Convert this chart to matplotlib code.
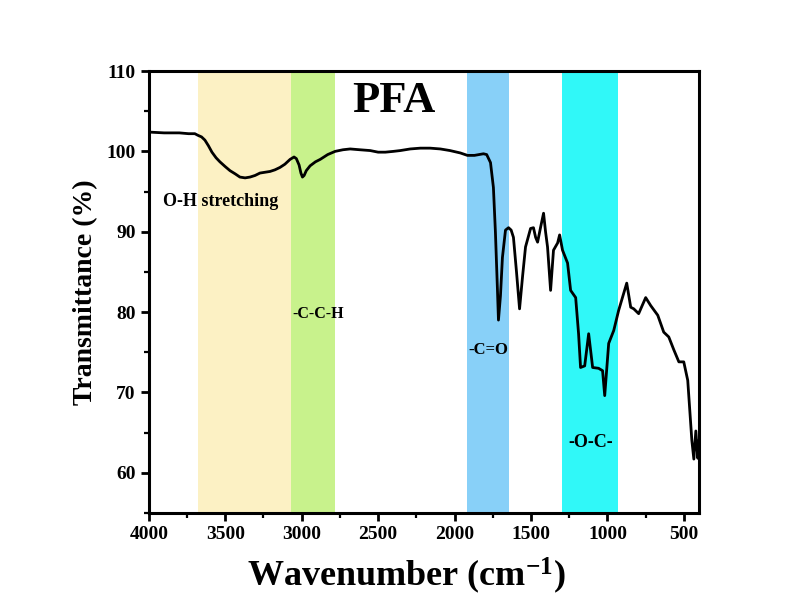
import matplotlib
matplotlib.use("Agg")
import matplotlib.pyplot as plt
from matplotlib.ticker import MultipleLocator

# ---- data ----
wavenumber = [4000, 3900, 3800, 3740, 3699, 3679, 3655, 3633, 3610, 3587, 3560, 3535, 3500,
              3469, 3435, 3404, 3370, 3338, 3305, 3273, 3240, 3207, 3175, 3142, 3110,
              3076, 3050, 3035, 3017, 3005, 2995, 2984, 2970, 2945, 2910, 2879, 2830,
              2781, 2730, 2683, 2620, 2552, 2500, 2453, 2400, 2355, 2290, 2224, 2160,
              2093, 2030, 1962, 1916, 1870, 1811, 1790, 1765, 1746, 1733, 1720, 1713,
              1700, 1687, 1667, 1647, 1630, 1615, 1595, 1575, 1555, 1536, 1503, 1484,
              1470, 1457, 1438, 1418, 1405, 1392, 1372, 1353, 1326, 1313, 1294, 1261,
              1241, 1208, 1189, 1176, 1149, 1123, 1097, 1058, 1032, 1018, 992, 959,
              927, 874, 848, 828, 796, 750, 717, 671, 632, 599, 566, 533, 501, 475,
              448, 435, 422, 409, 400]
transmittance = [102.4, 102.3, 102.3, 102.2, 102.2, 102.0, 101.8, 101.4, 100.7, 99.9, 99.2, 98.7, 98.1,
                 97.6, 97.2, 96.8, 96.7, 96.8, 97.0, 97.3, 97.4, 97.5, 97.7, 98.0, 98.4,
                 99.0, 99.3, 99.1, 98.3, 97.3, 96.8, 97.0, 97.6, 98.2, 98.7, 99.0, 99.6,
                 100.0, 100.2, 100.3, 100.2, 100.1, 99.9, 99.9, 100.0, 100.1, 100.3, 100.4, 100.4,
                 100.3, 100.1, 99.8, 99.5, 99.5, 99.7, 99.6, 98.6, 95.5, 90.0, 83.0, 79.0,
                 82.0, 86.8, 90.2, 90.5, 90.2, 89.3, 85.0, 80.4, 84.5, 88.1, 90.4, 90.5,
                 89.3, 88.7, 90.5, 92.3, 90.0, 88.1, 82.7, 87.7, 88.6, 89.6, 87.7, 86.1,
                 82.7, 81.8, 77.3, 73.1, 73.3, 77.3, 73.1, 73.0, 72.7, 69.6, 76.1, 77.7,
                 80.2, 83.6, 80.6, 80.4, 79.8, 81.8, 80.8, 79.6, 77.5, 76.9, 75.3, 73.8, 73.8, 71.5,
                 64.0, 61.7, 65.2, 61.8, 64.0]

band_ranges = [(3679, 3069), (3069, 2781), (1916, 1641), (1300, 933)]
band_colors = ["#FCF1C4", "#C8F28C", "#88D0F8", "#30F8F8"]

label_texts = ["O-H stretching", "-C-C-H", "-C=O", "-O-C-"]
label_x = [3530, 2890, 1778, 1110]
label_y = [93.75, 79.75, 75.25, 63.75]
label_sizes = [13, 11.5, 12, 13]

plt.rcParams['font.family'] = ['Liberation Serif', 'DejaVu Serif']
plt.rcParams['mathtext.fontset'] = 'custom'
plt.rcParams['mathtext.rm'] = 'Liberation Serif:bold'
plt.rcParams['mathtext.bf'] = 'Liberation Serif:bold'
plt.rcParams['mathtext.it'] = 'Liberation Serif:bold'

fig = plt.figure(figsize=(8, 6.07), dpi=100)
ax = fig.add_axes([0.186, 0.155, 0.688, 0.728])

for (a, b), c in zip(band_ranges, band_colors):
    ax.axvspan(a, b, color=c, lw=0, zorder=0)

ax.plot(wavenumber, transmittance, color='black', lw=2.0, zorder=3)

ax.set_xlim(4000, 400)
ax.set_ylim(55, 110)
ax.xaxis.set_minor_locator(MultipleLocator(250))
ax.yaxis.set_minor_locator(MultipleLocator(5))
ax.set_xticks([4000, 3500, 3000, 2500, 2000, 1500, 1000, 500])
ax.set_yticks([60, 70, 80, 90, 100, 110])

ax.tick_params(which='major', direction='out', length=6, width=2, labelsize=14)
ax.tick_params(which='minor', direction='out', length=3.5, width=1.6)
for lab in ax.get_xticklabels() + ax.get_yticklabels():
    lab.set_fontweight('bold')
for s in ax.spines.values():
    s.set_linewidth(2.2)

ax.set_xlabel(r'Wavenumber (cm$^{\mathbf{-1}}$)', fontsize=26, fontweight='bold', labelpad=9)
ax.xaxis.label.set_x(0.468)
ax.set_ylabel('Transmittance (%)', fontsize=20, fontweight='bold', labelpad=6)

ax.text(2400, 106.25, 'PFA', fontsize=32, fontweight='bold', ha='center', va='center')
for t, x, y, s in zip(label_texts, label_x, label_y, label_sizes):
    ax.text(x, y, t, fontsize=s, fontweight='bold', ha='center', va='center')

fig.savefig('out.png', dpi=100)
